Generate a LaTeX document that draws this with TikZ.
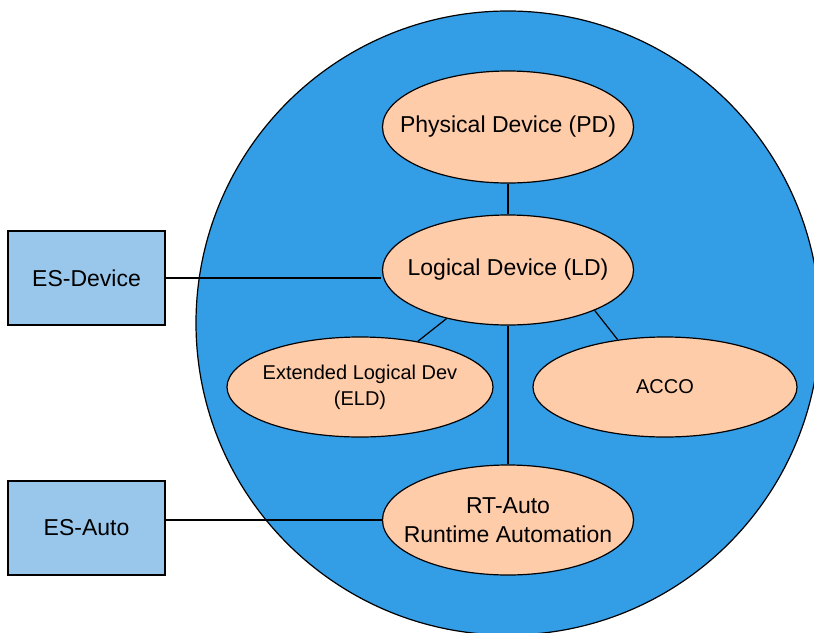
\documentclass[tikz,border=0pt]{standalone}
\usepackage{fontspec}
\setmainfont{Liberation Sans}
\usepackage{xcolor}
\usetikzlibrary{shapes.geometric}

\definecolor{ringblue}{RGB}{51,157,230}
\definecolor{peach}{RGB}{255,204,170}
\definecolor{boxblue}{RGB}{152,199,235}

\begin{document}
\begin{tikzpicture}[
  x=1pt, y=-1pt,
  ring/.style={draw, circle, fill=ringblue, line width=1.2pt,
               minimum size=624pt, inner sep=0pt},
  dev/.style={draw, ellipse, fill=peach, line width=1.2pt,
              inner xsep=-30pt, inner ysep=0pt,
              align=center, font=\fontsize{23}{29}\selectfont},
  small/.style={dev, font=\fontsize{20}{26}\selectfont},
  es/.style={draw, fill=boxblue, line width=1.2pt, minimum width=157pt,
             minimum height=94pt, font=\fontsize{23}{28}\selectfont},
  link/.style={line width=1.2pt},
]
\clip (0,0) rectangle (814,632);

% outer domain
\node[ring] (ring) at (508,323) {};

% devices inside the ring
\node[dev, minimum width=251pt, minimum height=112pt] (pd) at (508,127)
     {Physical Device (PD)};
\node[dev, minimum width=251pt, minimum height=110pt] (ld) at (508,270)
     {Logical Device (LD)};
\node[small, minimum width=266pt, minimum height=100pt] (eld) at (360,387)
     {Extended Logical Dev\\(ELD)};
\node[small, minimum width=264pt, minimum height=100pt] (acco) at (665,387)
     {ACCO};
\node[dev, minimum width=251pt, minimum height=110pt] (rt) at (508,520)
     {RT-Auto\\Runtime Automation};

% external systems
\node[es] (esdev) at (86.5,278) {ES-Device};
\node[es] (esauto) at (86.5,528) {ES-Auto};

\draw[link] (pd) -- (ld);
\draw[link] (ld) -- (rt);
\draw[link] (ld) -- (eld);
\draw[link] (ld.-25) -- (acco.135);
\draw[link, shorten >=1pt] (esdev.east) -- (esdev.east -| ld.west);
\draw[link] (esauto.east |- rt.west) -- (rt.west);
\end{tikzpicture}
\end{document}
